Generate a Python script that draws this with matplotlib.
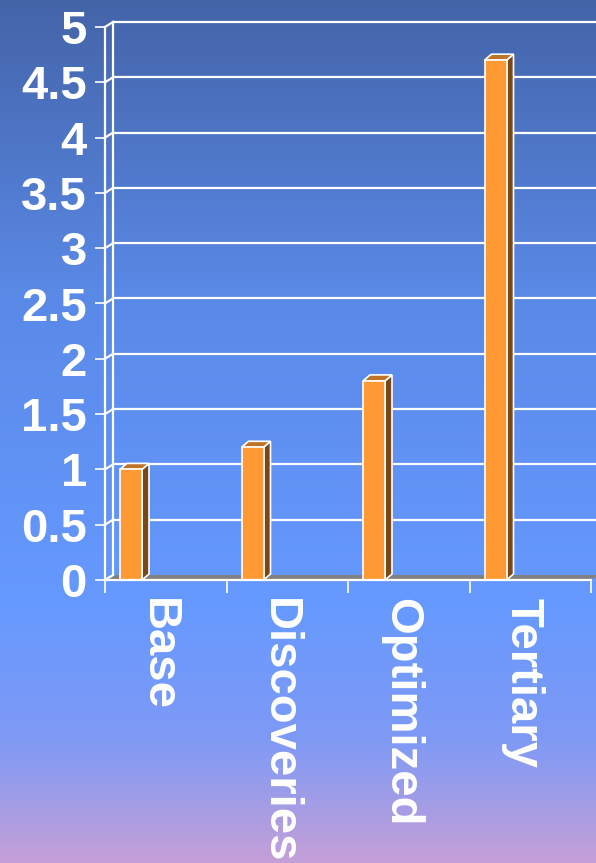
import matplotlib
matplotlib.use("Agg")
import matplotlib.pyplot as plt
import numpy as np
from matplotlib.colors import LinearSegmentedColormap
from matplotlib.patches import Polygon
from matplotlib.transforms import ScaledTranslation

# chart data
categories = ["Base", "Discoveries", "Optimized", "Tertiary"]
values = [1.0, 1.2, 1.8, 4.7]
yticks = [0, 0.5, 1, 1.5, 2, 2.5, 3, 3.5, 4, 4.5, 5]
ytick_labels = ["0", "0.5", "1", "1.5", "2", "2.5", "3", "3.5", "4", "4.5", "5"]

plt.rcParams['font.family'] = ['Liberation Sans', 'DejaVu Sans']
plt.rcParams['font.weight'] = 'bold'

W, H, DPI = 596, 863, 100
fig = plt.figure(figsize=(W / DPI, H / DPI), dpi=DPI)

# slide-style vertical gradient behind everything
bg = fig.add_axes([0, 0, 1, 1], zorder=-10)
grad_cmap = LinearSegmentedColormap.from_list(
    "slide", [(0.0, "#4464a8"), (0.35, "#5a8ae8"), (0.70, "#6699ff"),
              (0.86, "#7f9af5"), (1.0, "#c4a0d8")])
bg.imshow(np.linspace(0, 1, 256).reshape(-1, 1), cmap=grad_cmap,
          aspect="auto", extent=[0, 1, 0, 1])
bg.set_axis_off()

# front plane of the 3D chart
left_px, right_px, bottom_px, top_px = 105, 591, 580, 27
ax = fig.add_axes([left_px / W, (H - bottom_px) / H,
                   (right_px - left_px) / W, (bottom_px - top_px) / H])
ax.set_facecolor("none")
n = len(categories)
ax.set_xlim(0, n)
ax.set_ylim(0, 5)

# depth offsets converted from pixels to data units
px_x = (right_px - left_px) / n
px_y = (bottom_px - top_px) / 5
wall_dx, wall_dy = 8 / px_x, 5 / px_y
bar_dx, bar_dy = 7 / px_x, 6 / px_y

white = "white"
lw = 1.6

# floor
floor = Polygon([(0, 0), (n, 0), (n + wall_dx, wall_dy), (wall_dx, wall_dy)],
                closed=True, facecolor="#808080", edgecolor="none",
                zorder=1, clip_on=False)
ax.add_patch(floor)

# back wall and side wall gridlines
for v in yticks:
    if v > 0:
        ax.plot([wall_dx, n + wall_dx], [v + wall_dy, v + wall_dy],
                color=white, lw=lw, zorder=1, clip_on=False)
    ax.plot([0, wall_dx], [v, v + wall_dy], color=white, lw=lw,
            zorder=1, clip_on=False)
ax.plot([wall_dx, wall_dx], [wall_dy, 5 + wall_dy], color=white, lw=lw,
        zorder=1, clip_on=False)

# bars with a side and top face
offset, width = 15 / px_x, 22 / px_x
for i, v in enumerate(values):
    x0 = i + offset
    x1 = x0 + width
    ax.bar(x0, v, width, align="edge", color="#ff9933",
           edgecolor=white, linewidth=1.2, zorder=4)
    side = Polygon([(x1, 0), (x1 + bar_dx, bar_dy), (x1 + bar_dx, v + bar_dy), (x1, v)],
                   closed=True, facecolor="#7a4818", edgecolor=white,
                   linewidth=1.2, zorder=3)
    top = Polygon([(x0, v), (x0 + bar_dx, v + bar_dy), (x1 + bar_dx, v + bar_dy), (x1, v)],
                  closed=True, facecolor="#bf7326", edgecolor=white,
                  linewidth=1.2, zorder=3)
    ax.add_patch(side)
    ax.add_patch(top)

for s in ["top", "right"]:
    ax.spines[s].set_visible(False)
for s in ["left", "bottom"]:
    ax.spines[s].set_color(white)
    ax.spines[s].set_linewidth(lw)
    ax.spines[s].set_zorder(5)

ax.set_yticks(yticks)
ax.set_yticklabels(ytick_labels)
ax.tick_params(axis="y", direction="out", length=7, width=1.2, color=white,
               labelcolor=white, labelsize=34, pad=6)

# category boundaries as major ticks, names on minor ticks
ax.set_xticks(np.arange(n + 1))
ax.set_xticklabels([])
ax.set_xticks(np.arange(n) + 0.5, minor=True)
ax.set_xticklabels(categories, minor=True, rotation=-90)
ax.tick_params(axis="x", which="major", direction="out", length=9,
               width=1.2, color=white)
ax.tick_params(axis="x", which="minor", length=0, labelcolor=white,
               labelsize=34, pad=13)
shift = ScaledTranslation(-8 / DPI, 0, fig.dpi_scale_trans)
for lab in ax.get_xticklabels(minor=True):
    lab.set_transform(lab.get_transform() + shift)

fig.savefig("out.png", dpi=DPI)
